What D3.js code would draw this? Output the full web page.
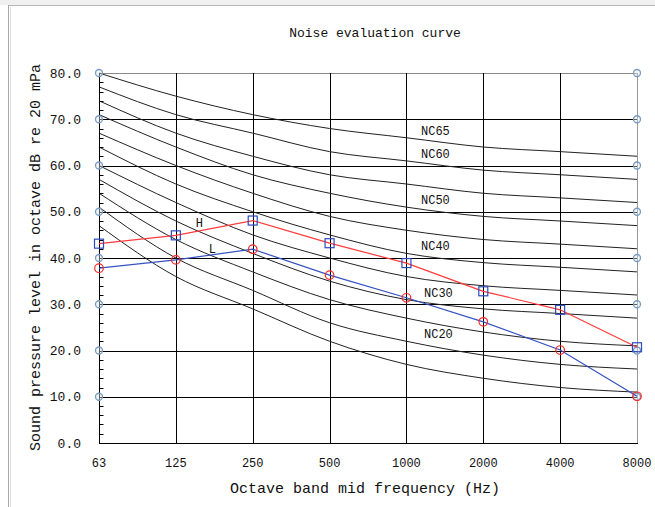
<!DOCTYPE html>
<html><head><meta charset="utf-8">
<script src="https://cdn.jsdelivr.net/npm/d3@7"></script>
<style>
html,body{margin:0;padding:0;background:#fff;}
svg{display:block;}
text{font-family:"Liberation Mono","DejaVu Sans Mono",monospace;fill:#111;}
</style></head>
<body>
<script>
const freqs = ["63","125","250","500","1000","2000","4000","8000"];
const yTicks = [0,10,20,30,40,50,60,70,80];
const ncNames = ["NC15","NC20","NC25","NC30","NC35","NC40","NC45","NC50","NC55","NC60","NC65"];
const ncValues = [
  [47,36,29,22,17,14,12,11],
  [51,40,33,26,22,19,17,16],
  [54,44,37,31,27,24,22,21],
  [57,48,41,35,31,29,28,27],
  [60,52,45,40,36,34,33,32],
  [64,56,50,45,41,39,38,37],
  [67,60,54,49,46,44,43,42],
  [71,64,58,54,51,49,48,47],
  [74,67,62,58,56,54,53,52],
  [77,71,67,63,61,59,58,57],
  [80,75,71,68,66,64,63,62]
];
const labeledNC = ["NC65","NC60","NC50","NC40","NC30","NC20"];
const seriesH = [43.1,44.9,48.1,43.2,38.9,32.8,28.8,20.7];
const seriesL = [37.8,39.6,41.9,36.3,31.4,26.2,20.1,10.1];

const W=655,H=507;
const svg=d3.select("body").append("svg").attr("width",W).attr("height",H);

// window frame
svg.append("rect").attr("x",0).attr("y",0).attr("width",W).attr("height",5).attr("fill","#f0f0f0");
svg.append("line").attr("x1",8).attr("x2",W).attr("y1",5.5).attr("y2",5.5).attr("stroke","#b8b8b8");
svg.append("line").attr("x1",8.5).attr("x2",8.5).attr("y1",5).attr("y2",H).attr("stroke","#a8a8a8");
svg.append("line").attr("x1",10.5).attr("x2",10.5).attr("y1",7).attr("y2",H).attr("stroke","#dcdcdc");

const x=d3.scalePoint().domain(freqs).range([99,637]);
const y=d3.scaleLinear().domain([0,80]).range([443,73]);

// title
svg.append("text").attr("x",375).attr("y",37).attr("text-anchor","middle")
  .style("font-size","13px").text("Noise evaluation curve");

// horizontal grid
const g=svg.append("g");
g.selectAll("line.h").data(yTicks.filter(v=>v>0)).join("line")
  .attr("x1",x("63")).attr("x2",x("8000"))
  .attr("y1",d=>Math.round(y(d))+0.5).attr("y2",d=>Math.round(y(d))+0.5)
  .attr("stroke",d=>d===80?"#888":"#000").attr("stroke-width",1);
// vertical grid
g.selectAll("line.v").data(freqs.slice(1)).join("line")
  .attr("x1",d=>Math.round(x(d))+0.5).attr("x2",d=>Math.round(x(d))+0.5)
  .attr("y1",y(80)).attr("y2",y(0))
  .attr("stroke",d=>d==="8000"?"#999":"#000").attr("stroke-width",1);

// NC curves
const line=d3.line().x((d,i)=>x(freqs[i])).y(d=>y(d)).curve(d3.curveMonotoneX);
svg.append("g").selectAll("path").data(ncValues).join("path")
  .attr("d",line).attr("fill","none").attr("stroke","#222").attr("stroke-width",1);

// NC labels
svg.append("g").selectAll("text").data(ncNames.map((n,i)=>({n,v:ncValues[i][4]})).filter(d=>labeledNC.includes(d.n)))
  .join("text")
  .attr("x",d=>x("1000")+(d.n==="NC30"||d.n==="NC20"?32:29))
  .attr("y",d=>y(d.v)-3)
  .attr("text-anchor","middle").style("font-size","12px").text(d=>d.n);

// left axis
const yAxisG=svg.append("g").attr("transform",`translate(${Math.round(x("63"))+0.5},0)`);
yAxisG.append("line").attr("y1",y(80)).attr("y2",y(0)).attr("stroke","#000");
const minor=d3.range(0,80,2).filter(v=>v%10!==0);
yAxisG.selectAll("line.m").data(minor).join("line")
  .attr("x1",0).attr("x2",4).attr("y1",d=>Math.round(y(d))+0.5).attr("y2",d=>Math.round(y(d))+0.5).attr("stroke","#000");
svg.append("g").selectAll("text").data(yTicks).join("text")
  .attr("x",81).attr("y",d=>y(d)+4.5).attr("text-anchor","end").style("font-size","13px")
  .text(d=>d3.format(".1f")(d));

// bottom axis
svg.append("line").attr("x1",x("63")).attr("x2",x("8000")+1).attr("y1",Math.round(y(0))+0.5).attr("y2",Math.round(y(0))+0.5).attr("stroke","#000");
svg.append("g").selectAll("text").data(freqs).join("text")
  .attr("x",d=>x(d)).attr("y",467).attr("text-anchor","middle").style("font-size","12px").text(d=>d);

// right axis
svg.append("line").attr("x1",Math.round(x("8000"))+0.5).attr("x2",Math.round(x("8000"))+0.5).attr("y1",y(80)).attr("y2",y(0)).attr("stroke","#999");

// axis circles
const circ=[];
yTicks.filter(v=>v>0).forEach(v=>{circ.push({f:"63",v});circ.push({f:"8000",v});});
svg.append("g").selectAll("circle").data(circ).join("circle")
  .attr("cx",d=>x(d.f)).attr("cy",d=>y(d.v)).attr("r",3.5)
  .attr("fill","#dde6ee").attr("fill-opacity",0.4).attr("stroke","#7a9cc0").attr("stroke-width",1.3);

// series lines
const sline=d3.line().x((d,i)=>x(freqs[i])).y(d=>y(d));
svg.append("path").attr("d",sline(seriesH)).attr("fill","none").attr("stroke","#ff3b3b").attr("stroke-width",1.2);
svg.append("path").attr("d",sline(seriesL)).attr("fill","none").attr("stroke","#3552c0").attr("stroke-width",1.2);

// markers
svg.append("g").selectAll("rect").data(seriesH).join("rect")
  .attr("x",(d,i)=>x(freqs[i])-4.5).attr("y",d=>y(d)-4.5).attr("width",9).attr("height",9)
  .attr("fill","none").attr("stroke","#2a4cc0").attr("stroke-width",1.2);
svg.append("g").selectAll("circle").data(seriesL).join("circle")
  .attr("cx",(d,i)=>x(freqs[i])).attr("cy",d=>y(d)).attr("r",4.3)
  .attr("fill","none").attr("stroke","#ff2a2a").attr("stroke-width",1.2);

// series labels
const midH=(seriesH[1]+seriesH[2])/2, midL=(seriesL[1]+seriesL[2])/2;
svg.append("text").attr("x",(x("125")+x("250"))/2-15).attr("y",y(midH)-1).attr("text-anchor","middle").style("font-size","12px").text("H");
svg.append("text").attr("x",(x("125")+x("250"))/2-2).attr("y",y(midL)-2).attr("text-anchor","middle").style("font-size","12px").text("L");

// axis titles
svg.append("text").attr("x",365).attr("y",493).attr("text-anchor","middle").style("font-size","15px").text("Octave band mid frequency (Hz)");
svg.append("text").attr("transform",`translate(40,${(63+452)/2}) rotate(-90)`).attr("text-anchor","middle")
  .style("font-size","15px").text("Sound pressure level in octave dB re 20 mPa");
</script>
</body></html>
